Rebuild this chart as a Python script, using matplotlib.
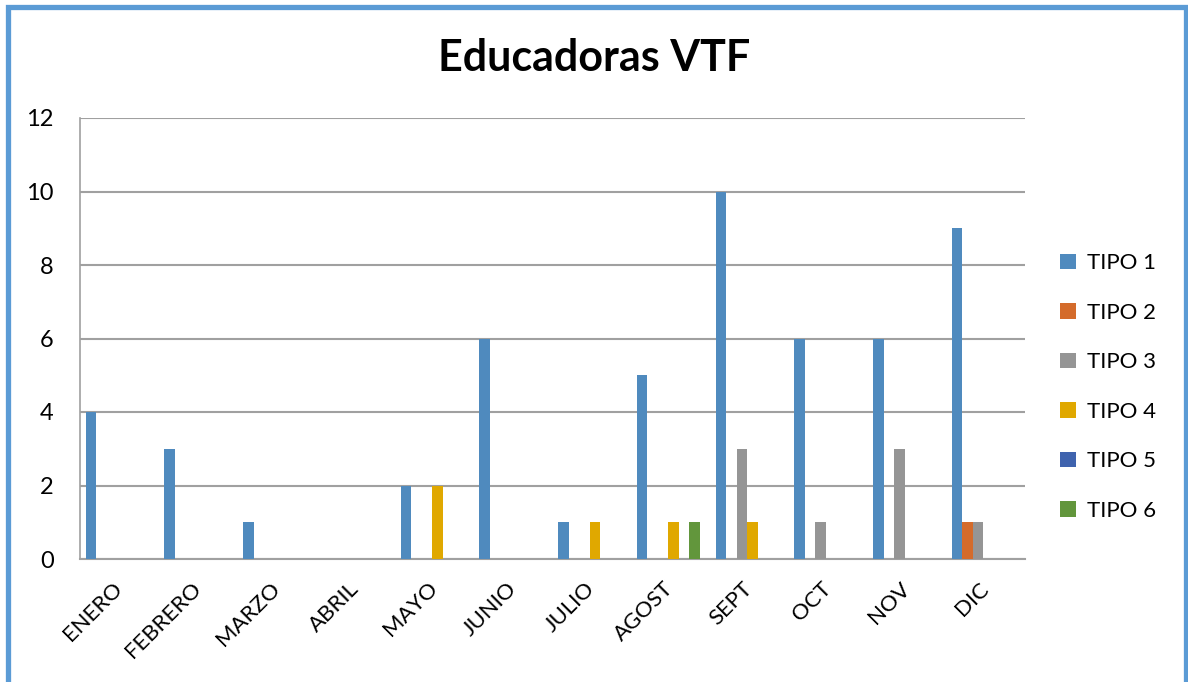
import numpy as np
import matplotlib
matplotlib.use("Agg")
import matplotlib.pyplot as plt
from matplotlib.patches import Rectangle

# ===== data =====
months = ["ENERO", "FEBRERO", "MARZO", "ABRIL", "MAYO", "JUNIO",
          "JULIO", "AGOST", "SEPT", "OCT", "NOV", "DIC"]
tipo1 = [4, 3, 1, 0, 2, 6, 1, 5, 10, 6, 6, 9]
tipo2 = [0, 0, 0, 0, 0, 0, 0, 0, 0, 0, 0, 1]
tipo3 = [0, 0, 0, 0, 0, 0, 0, 0, 3, 1, 3, 1]
tipo4 = [0, 0, 0, 0, 2, 0, 1, 1, 1, 0, 0, 0]
tipo5 = [0, 0, 0, 0, 0, 0, 0, 0, 0, 0, 0, 0]
tipo6 = [0, 0, 0, 0, 0, 0, 0, 1, 0, 0, 0, 0]
series_names = ["TIPO 1", "TIPO 2", "TIPO 3", "TIPO 4", "TIPO 5", "TIPO 6"]
yticks = [0, 2, 4, 6, 8, 10, 12]

series = [tipo1, tipo2, tipo3, tipo4, tipo5, tipo6]
colors = ["#4F8ABE", "#D46B2B", "#959595", "#E0A800", "#3F63AE", "#62963C"]

plt.rcParams["font.family"] = ["Lato", "DejaVu Sans"]

fig = plt.figure(figsize=(11.88, 6.82), dpi=100)
ax = fig.add_axes([80 / 1188, 1 - 559 / 682, 945 / 1188, 441 / 682])

# excel-like clustered columns
n = len(series)
bw = 1 / (n + 1.5)
x = np.arange(len(months))
for i, (vals, name, c) in enumerate(zip(series, series_names, colors)):
    pos = x + 0.07 + i * bw + bw / 2
    ax.bar(pos, vals, width=bw, color=c, label=name, linewidth=0, zorder=3)

ax.set_xlim(0, len(months))
ax.set_ylim(0, 12)
ax.set_yticks(yticks)
ax.set_xticks(x + 0.5)
ax.set_xticklabels(months, rotation=45, ha="right", va="center",
                   rotation_mode="anchor", fontsize=16)
ax.tick_params(axis="x", length=0, pad=19)
ax.tick_params(axis="y", length=0, pad=19, labelsize=17)

ax.grid(axis="y", color="#A0A0A0", linewidth=1.5, zorder=0)
for s in ["top", "right"]:
    ax.spines[s].set_visible(False)
ax.spines["left"].set_color("#A0A0A0")
ax.spines["bottom"].set_color("#A0A0A0")
ax.spines["left"].set_linewidth(1.2)
ax.spines["bottom"].set_linewidth(1.5)

fig.text(0.5, 1 - 58 / 682, "Educadoras VTF", ha="center", va="center",
         fontsize=31, fontweight="bold")

fig.legend(loc="center left", bbox_to_anchor=(1060 / 1188, 1 - 387 / 682),
           frameon=False, fontsize=16, handlelength=0.7, handleheight=0.7,
           handletextpad=0.5, labelspacing=1.33, borderaxespad=0,
           borderpad=0)

# blue outer border
fig.patches.append(Rectangle((7.5 / 1188, -0.05), 1178 / 1188, 1.05 - 7 / 682,
                             transform=fig.transFigure, fill=False,
                             edgecolor="#5B9BD5", linewidth=3.8))

fig.savefig("out.png", dpi=100)
